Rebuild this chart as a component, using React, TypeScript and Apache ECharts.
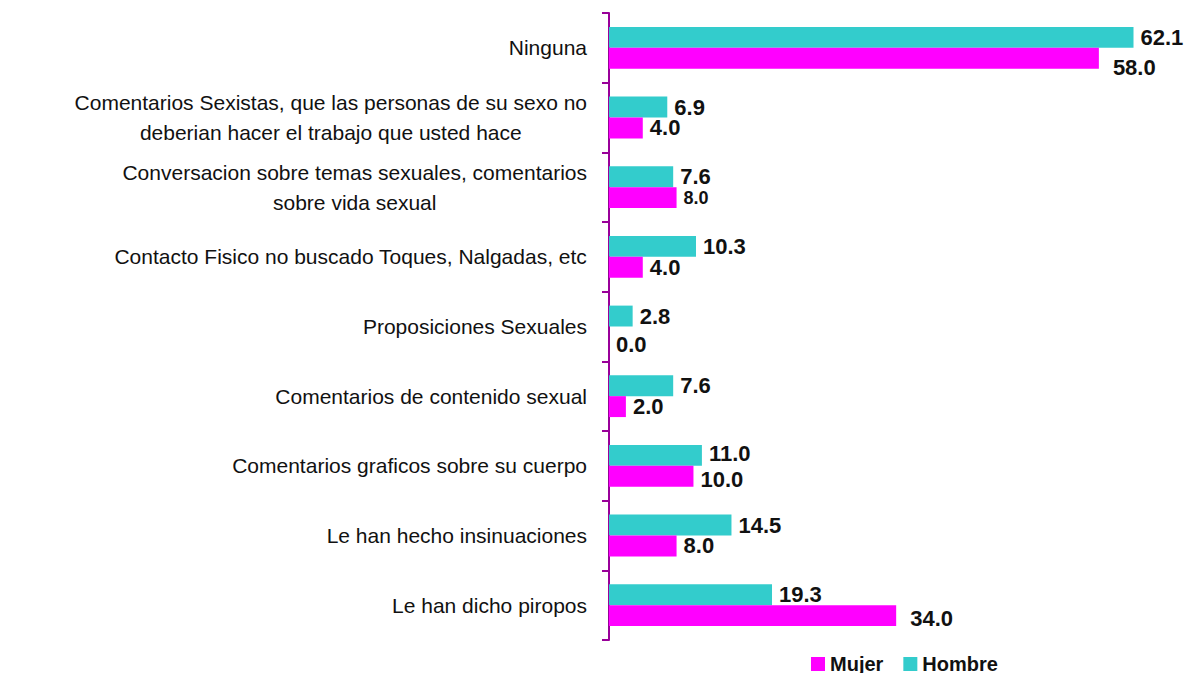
import React, { useEffect, useRef } from "react";
import * as echarts from "echarts";

const categories = [
  "Ninguna",
  "Comentarios Sexistas, que las personas de su sexo no\ndeberian hacer el trabajo que usted hace",
  "Conversacion sobre temas sexuales, comentarios\nsobre vida sexual",
  "Contacto Fisico no buscado Toques, Nalgadas, etc",
  "Proposiciones Sexuales",
  "Comentarios de contenido sexual",
  "Comentarios graficos sobre su cuerpo",
  "Le han hecho insinuaciones",
  "Le han dicho piropos",
];
const mujer = [58.0, 4.0, 8.0, 4.0, 0.0, 2.0, 10.0, 8.0, 34.0];
const hombre = [62.1, 6.9, 7.6, 10.3, 2.8, 7.6, 11.0, 14.5, 19.3];

// label style tweaks (position offsets / font sizes), kept apart from data
const mujerLabelOffset: Record<number, [number, number]> = {
  0: [7, 9],
  4: [0, 8],
  6: [0, 3],
  8: [7, 3],
};
const hombreLabelOffset: Record<number, [number, number]> = {
  6: [0, -2],
};
const mujerLabelSize: Record<number, number> = { 2: 18 };

const FONT = "Liberation Sans, Arial, sans-serif";

export default function App() {
  const ref = useRef<HTMLDivElement>(null);
  useEffect(() => {
    if (!ref.current) return;
    const chart = echarts.init(ref.current, undefined, { renderer: "svg" });
    const labelBase = {
      show: true,
      position: "right",
      distance: 7,
      fontFamily: FONT,
      fontWeight: "bold",
      fontSize: 22,
      color: "#111",
      formatter: (p: any) => Number(p.value).toFixed(1),
    };
    chart.setOption({
      animation: false,
      textStyle: { fontFamily: FONT },
      grid: { left: 609, top: 13, height: 627, width: 549, containLabel: false },
      legend: {
        data: ["Mujer", "Hombre"],
        left: 806,
        top: 649,
        itemWidth: 14,
        itemHeight: 14,
        itemGap: 20,
        icon: "rect",
        textStyle: {
          fontFamily: FONT,
          fontWeight: "bold",
          fontSize: 20,
          color: "#111",
        },
      },
      xAxis: {
        type: "value",
        min: 0,
        max: 65,
        show: false,
      },
      yAxis: {
        type: "category",
        data: categories,
        inverse: true,
        axisLine: { show: true, lineStyle: { color: "#990099", width: 2 } },
        axisTick: {
          show: true,
          length: 7,
          alignWithLabel: false,
          lineStyle: { color: "#990099", width: 2 },
        },
        axisLabel: {
          margin: 22,
          align: "right",
          formatter: (v: string) =>
            v
              .split("\n")
              .map((l) => "{c|" + l + "}")
              .join("\n"),
          rich: {
            c: {
              align: "center",
              fontSize: 21,
              lineHeight: 30,
              color: "#111",
              fontFamily: FONT,
            },
          },
        },
        splitLine: { show: false },
      },
      series: [
        {
          name: "Hombre",
          type: "bar",
          data: hombre.map((v, i) => ({
            value: v,
            label: { offset: hombreLabelOffset[i] || [0, 0] },
          })),
          barGap: "0%",
          barCategoryGap: "40%",
          itemStyle: { color: "#33CCCC" },
          label: labelBase,
        },
        {
          name: "Mujer",
          type: "bar",
          data: mujer.map((v, i) => ({
            value: v,
            label: {
              offset: mujerLabelOffset[i] || [0, 0],
              fontSize: mujerLabelSize[i] || 22,
            },
          })),
          barGap: "0%",
          barCategoryGap: "40%",
          itemStyle: { color: "#FF00FF" },
          label: labelBase,
        },
      ],
    });
    return () => chart.dispose();
  }, []);
  return <div ref={ref} style={{ width: 1189, height: 673, position: "absolute", left: 0, top: 0 }} />;
}
